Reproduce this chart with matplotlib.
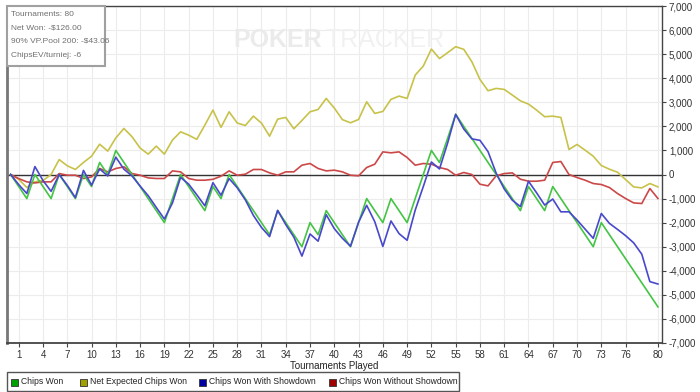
import matplotlib
matplotlib.use("Agg")
import matplotlib.pyplot as plt
from matplotlib.patches import Rectangle
from matplotlib.ticker import FuncFormatter

plt.rcParams['font.family'] = ['Liberation Sans', 'DejaVu Sans']

tournaments = list(range(0, 81))

chips_won = [0, -500, -1000, 0, -500, -1000, 0, -500, -1000, 0,
             -500, 500, 0, 1000, 500, 0, -500, -1000, -1500, -2000,
             -1000, 0, -500, -1000, -1500, -500, -1000, 0, -500, -1000,
             -1500, -2000, -2500, -1500, -2000, -2500, -3000, -2000, -2500, -1500,
             -2000, -2500, -3000, -2000, -1000, -1500, -2000, -1000, -1500, -2000,
             -1000, 0, 1000, 500, 1500, 2500, 2000, 1500, 1000, 500,
             0, -500, -1000, -1500, -500, -1000, -1500, -500, -1000, -1500,
             -2000, -2500, -3000, -2000, -2500, -3000, -3500, -4000, -4500, -5000, -5500]

net_expected = [0, -200, -540, -300, -250, 0, 620, 360, 210, 500,
                760, 1260, 970, 1520, 1913, 1570, 1100, 845, 1180, 845,
                1430, 1773, 1635, 1460, 2050, 2675, 1960, 2605, 2140, 2035,
                2425, 2135, 1593, 2300, 2370, 1900, 2245, 2605, 2703, 3160,
                2760, 2280, 2148, 2287, 3020, 2537, 2620, 3120, 3257, 3160,
                4130, 4505, 5212, 4815, 5060, 5310, 5200, 4685, 3950, 3480,
                3577, 3535, 3300, 3060, 2925, 2675, 2400, 2425, 2370, 1040,
                1248, 1010, 760, 373, 220, 95, -210, -515, -557, -375, -515]

with_showdown = [0, -420, -790, 330, -250, -700, 0, -450, -960, 170,
                 -440, 230, -60, 720, 220, -60, -480, -880, -1370, -1850,
                 -1180, -120, -400, -840, -1300, -340, -860, -170, -550, -1050,
                 -1700, -2200, -2580, -1490, -2080, -2600, -3390, -2470, -2770, -1670,
                 -2250, -2650, -2980, -1980, -1280, -1960, -2990, -1930, -2455, -2733,
                 -1480, -500, 520, 230, 1300, 2500, 1890, 1480, 1420, 950,
                 60, -600, -1068, -1330, -280, -760, -1270, -1020, -1550, -1550,
                 -1890, -2270, -2650, -1620, -2030, -2280, -2540, -2840, -3310, -4450, -4550]

without_showdown = [0, -170, -306, -350, -306, -306, 40, -29, -29, -166,
                    -100, 250, 110, 250, 318, 40, -29, -140, -166, -166,
                    150, 110, -166, -237, -237, -200, -70, 150, -29, 12,
                    208, 208, 67, -29, 110, 110, 387, 457, 250, 150,
                    180, 110, -29, -56, 290, 428, 940, 900, 940, 707,
                    387, 457, 428, 290, 208, -29, 83, 0, -403, -473,
                    -56, 40, 67, -196, -279, -279, -237, 500, 540, 0,
                    -125, -237, -375, -416, -541, -790, -998, -1180, -1206, -582, -998]

x_ticks = [1, 4, 7, 10, 13, 16, 19, 22, 25, 28, 31, 34, 37, 40, 43, 46, 49,
           52, 55, 58, 61, 64, 67, 70, 73, 76, 80]
y_ticks = list(range(-7000, 7001, 1000))

series_names = ["Chips Won", "Net Expected Chips Won", "Chips Won With Showdown",
                "Chips Won Without Showdown"]
line_colors = ["#44c444", "#c8c24a", "#4848cc", "#cc4848"]
legend_colors = ["#00a000", "#a0a000", "#0000a0", "#a00000"]

info_lines = ["Tournaments: 80", "Net Won: -$126.00", "90% VP.Pool 200: -$43.06",
              "ChipsEV/turniej: -6"]

W, H = 700, 392
fig = plt.figure(figsize=(W / 100, H / 100), dpi=100)
fig.patch.set_facecolor("white")

ax_l, ax_r, ax_t, ax_b = 7, 662, 6, 343
ax = fig.add_axes([ax_l / W, 1 - ax_b / H, (ax_r - ax_l) / W, (ax_b - ax_t) / H])

ax.set_xlim(-0.45, 80.5)
ax.set_ylim(-7000, 7000)
ax.set_xticks(x_ticks)
ax.set_yticks(y_ticks)
ax.grid(True, color="#ececec", lw=0.8, zorder=0)
ax.set_axisbelow(True)
ax.yaxis.tick_right()
ax.yaxis.set_major_formatter(FuncFormatter(lambda v, p: f"{int(v):,}"))
ax.tick_params(axis="both", direction="out", length=3, color="#444444",
               labelsize=7, labelcolor="#333333", width=0.8, pad=2)

for s in ["top", "right", "bottom"]:
    ax.spines[s].set_color("#444444")
    ax.spines[s].set_linewidth(1.0)
ax.spines["left"].set_color("#777777")
ax.spines["left"].set_linewidth(2.0)
ax.spines["bottom"].set_linewidth(1.3)

# watermark
fig.text(233 / W, 1 - 40 / H, "POKER", fontsize=18, fontweight="bold",
         color="#ebebeb", ha="left", va="center", zorder=0)
fig.text(326 / W, 1 - 40 / H, "TRACKER", fontsize=18, color="#f1f1f1",
         ha="left", va="center", zorder=0)

ax.axhline(0, color="#333333", lw=1.0, zorder=2)

series = [chips_won, net_expected, with_showdown, without_showdown]
order = [1, 3, 0, 2]
for i in order:
    ax.plot(tournaments, series[i], color=line_colors[i], lw=1.2, zorder=3)

# info box
box = Rectangle((ax_l / W, 1 - 66 / H), (105 - ax_l) / W, (66 - ax_t) / H,
                transform=fig.transFigure, facecolor="white", edgecolor="#a0a0a0",
                lw=1.5, zorder=5)
fig.patches.append(box)
for k, t in enumerate(info_lines):
    fig.text(11 / W, 1 - (14 + 13.7 * k) / H, t, fontsize=6, color="#707070",
             ha="left", va="center", zorder=6)

# x label
fig.text((ax_l + ax_r) / 2 / W, 1 - 366 / H, "Tournaments Played", fontsize=7,
         color="#222222", ha="center", va="center")

# legend
leg = Rectangle((7 / W, 1 - 391 / H), (459 - 7) / W, (391 - 372) / H,
                transform=fig.transFigure, facecolor="white", edgecolor="#555555",
                lw=1.0)
fig.patches.append(leg)
sq_x = [14.5, 83, 202.5, 332.5]
ly = 382
for i, name in enumerate(series_names):
    sq = Rectangle(((sq_x[i] - 3.5) / W, 1 - (ly + 3.5) / H), 7 / W, 7 / H,
                   transform=fig.transFigure, facecolor=legend_colors[i],
                   edgecolor="#333333", lw=0.6)
    fig.patches.append(sq)
    fig.text((sq_x[i] + 6.5) / W, 1 - ly / H, name, fontsize=6.2, color="#222222",
             ha="left", va="center")

fig.savefig("out.png", dpi=100, facecolor="white")
